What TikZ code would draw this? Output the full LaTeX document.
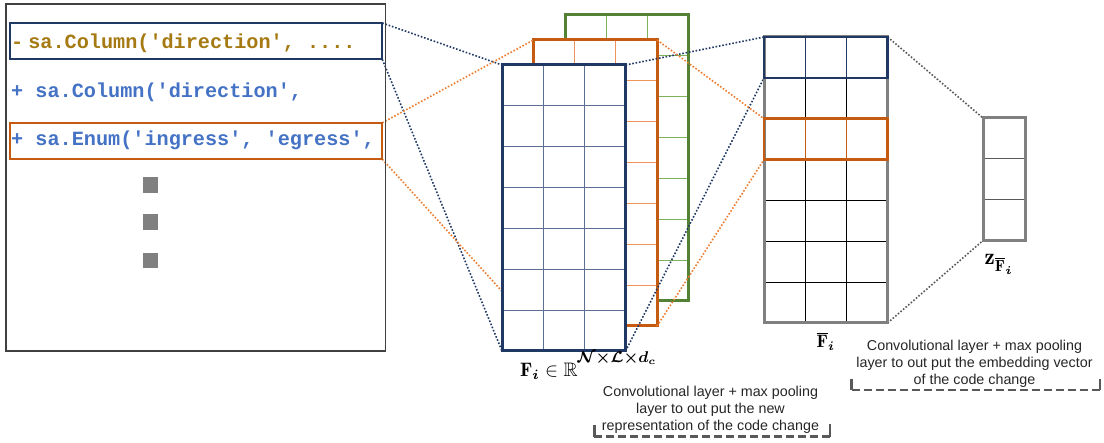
\documentclass[tikz,border=0pt]{standalone}
\usepackage{amsmath,amssymb,bm}
\usepackage{fontspec}
\setsansfont{Liberation Sans}
\newfontfamily\codefont{Liberation Mono}
\definecolor{navy}{HTML}{203864}
\definecolor{navyin}{HTML}{5A6F93}
\definecolor{orng}{HTML}{C55A11}
\definecolor{orngin}{HTML}{EE955E}
\definecolor{orngdot}{HTML}{ED7D31}
\definecolor{grn}{HTML}{548235}
\definecolor{grnin}{HTML}{7DB35A}
\definecolor{gry}{HTML}{808080}
\definecolor{dgray}{HTML}{595959}
\definecolor{gold}{HTML}{A67A12}
\definecolor{codeblue}{HTML}{4472C4}
\definecolor{boxgray}{HTML}{404040}
\pgfdeclarelayer{back}
\pgfdeclarelayer{mid}
\pgfsetlayers{back,mid,main}
\newcommand{\sq}{\textquotesingle}
\tikzset{
  gridfill/.style={fill=white, inner sep=0pt, outer sep=0pt, anchor=north west,
    minimum width=123.6pt, minimum height=286pt},
  rowbox/.style={inner sep=0pt, outer sep=0pt, anchor=north west, line width=2.6pt,
    minimum width=123.6pt, minimum height=40.857pt},
  hl/.style={inner sep=0pt, outer sep=0pt, anchor=north west, line width=2.2pt,
    minimum width=372.3pt, minimum height=36.4pt},
  codetxt/.style={anchor=base west, inner sep=0pt,
    font=\codefont\bfseries\fontsize{20.2pt}{23pt}\selectfont},
  sqdot/.style={fill=gry, inner sep=0pt, minimum size=15.5pt},
  conn/.style={line width=1.6pt, dash pattern=on 1.6pt off 1.8pt},
  frame/.style={line width=3pt},
  thinline/.style={line width=1pt},
  caption/.style={anchor=north, inner sep=0pt, align=center, text=black!85,
    font=\sffamily\fontsize{14.3pt}{17pt}\selectfont},
  mathlab/.style={anchor=base west, inner sep=0pt, font=\normalsize},
  bracketdash/.style={dgray, line width=2.5pt, dash pattern=on 8pt off 4pt},
  brackettick/.style={dgray, line width=2.5pt}
}
\begin{document}
\begin{tikzpicture}[x=1pt,y=-1pt]
\useasboundingbox (0,0) rectangle (1104,443);

% ---------- code box ----------
\node[draw=boxgray, line width=1.3pt, inner sep=0pt, outer sep=0pt, anchor=north west,
      minimum width=379.7pt, minimum height=347pt] (code) at (6,4) {};
\node[hl, draw=navy] (hlb) at (10,23) {};
\node[hl, draw=orng] (hlo) at (10,122.8) {};
\node[codetxt, text=gold] (l1) at (11,48.3) {-\hspace*{5pt}sa.Column(\sq direction\sq, ....};
\node[codetxt, text=codeblue] (l2) at (11,97.6) {+ sa.Column(\sq direction\sq,};
\node[codetxt, text=codeblue] (l3) at (11,145.6) {+ sa.Enum(\sq ingress\sq, \sq egress\sq,};
\node[sqdot] (d1) at (150.5,185) {};
\node[sqdot] (d2) at (150.5,222) {};
\node[sqdot] (d3) at (150.5,260.7) {};

% ---------- blue (front) feature map ----------
\node[gridfill] (blue) at (502,65) {};
\foreach \i in {1,2}
  \draw[navyin, thinline] (502+41.2*\i,65) -- (502+41.2*\i,351);
\foreach \j in {1,...,6}
  \draw[navyin, thinline] (502,65+40.857*\j) -- (625.6,65+40.857*\j);
\draw[navy, frame] (blue.north west) rectangle (blue.south east);

% ---------- green and orange maps behind ----------
\begin{pgfonlayer}{back}
  \node[gridfill] (green) at (565,15) {};
  \foreach \i in {1,2}
    \draw[grnin, thinline] (565+41.2*\i,15) -- (565+41.2*\i,301);
  \foreach \j in {1,...,6}
    \draw[grnin, thinline] (565,15+40.857*\j) -- (688.6,15+40.857*\j);
  \draw[grn, frame] (green.north west) rectangle (green.south east);
  \node[gridfill] (orange) at (533.5,40) {};
  \foreach \i in {1,2}
    \draw[orngin, thinline] (533.5+41.2*\i,40) -- (533.5+41.2*\i,326);
  \foreach \j in {1,...,6}
    \draw[orngin, thinline] (533.5,40+40.857*\j) -- (657.1,40+40.857*\j);
  \draw[orng, frame] (orange.north west) rectangle (orange.south east);
\end{pgfonlayer}

% ---------- F bar ----------
\node[gridfill] (fbar) at (764,37) {};
\foreach \i in {1,2}
  \draw[black, thinline] (764+41.2*\i,37) -- (764+41.2*\i,323);
\foreach \j in {1,...,6}
  \draw[black, thinline] (764,37+40.857*\j) -- (887.6,37+40.857*\j);
\draw[gry, frame] (fbar.north west) rectangle (fbar.south east);
\foreach \i in {1,2} {
  \draw[navy, thinline] (764+41.2*\i,37) -- (764+41.2*\i,77.857);
  \draw[orng, thinline] (764+41.2*\i,118.714) -- (764+41.2*\i,159.571);
}
\node[rowbox, draw=navy] (fr1) at (764,37) {};
\node[rowbox, draw=orng] (fr3) at (764,118.714) {};

% ---------- z vector ----------
\node[fill=white, inner sep=0pt, outer sep=0pt, anchor=north west,
      minimum width=42pt, minimum height=122.57pt] (zvec) at (983,118) {};
\foreach \j in {1,2}
  \draw[dgray, thinline] (983,118+40.857*\j) -- (1025,118+40.857*\j);
\draw[gry, frame] (zvec.north west) rectangle (zvec.south east);

% ---------- connectors ----------
\begin{pgfonlayer}{mid}
  \draw[conn, navy] (hlb.north east) -- (blue.north west);
  \draw[conn, navy] (hlb.south east) -- (blue.south west);
  \draw[conn, orngdot] (hlo.north east) -- (orange.north west);
  \draw[conn, orngdot] (hlo.south east) -- (orange.south west);
  \draw[conn, navy] (blue.north east) -- (fr1.north west);
  \draw[conn, navy] (blue.south east) -- (fr1.south west);
  \draw[conn, orngdot] (orange.north east) -- (fr3.north west);
  \draw[conn, orngdot] (orange.south east) -- (fr3.south west);
  \draw[conn, dgray] (fbar.north east) -- (zvec.north west);
  \draw[conn, dgray] (fbar.south east) -- (zvec.south west);
\end{pgfonlayer}

% ---------- labels ----------
\node[mathlab] (flab) at (520,377)
  {\scalebox{1.95}{$\mathbf{F}_{\bm{i}}\in\mathbb{R}$\raisebox{7.2pt}{\fontsize{7.7pt}{9pt}\selectfont$\bm{\mathcal{N}{\times}\mathcal{L}{\times}d_c}$}}};
\node[mathlab] (fbarlab) at (816.5,348)
  {\scalebox{1.8}{$\overline{\mathbf{F}}_{\bm{i}}$}};
\node[mathlab] (zlab) at (984.5,265)
  {\scalebox{2.3}{$\mathbf{z}_{\overline{\mathbf{F}}_{\bm{i}}}$}};

\node[caption] (cap1) at (710.5,385.5)
  {Convolutional layer + max pooling\\layer to out put the new\\representation of the code change};
\node[caption] (cap2) at (974.5,339.5)
  {Convolutional layer + max pooling\\layer to out put the embedding vector\\of the code change};

% ---------- dashed brackets ----------
\draw[brackettick] (594.3,425) -- (594.3,436.7);
\draw[bracketdash] (594.3,436.7) -- (830,436.7);
\draw[brackettick] (830,424) -- (830,436.7);
\draw[brackettick] (851.7,379) -- (851.7,390);
\draw[bracketdash] (851.7,390) -- (1100,390);
\draw[brackettick] (1100,379) -- (1100,390);
\end{tikzpicture}
\end{document}
